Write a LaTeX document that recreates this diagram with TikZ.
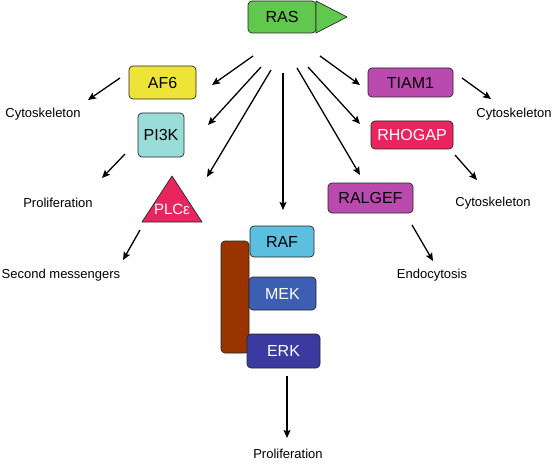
\documentclass[tikz,border=0pt]{standalone}
\usepackage{fontspec}
\setmainfont{Liberation Sans}
\usetikzlibrary{arrows.meta}
\definecolor{rasgreen}{RGB}{96,200,76}
\definecolor{afyellow}{RGB}{238,228,55}
\definecolor{pithree}{RGB}{153,221,216}
\definecolor{crimsonx}{RGB}{233,37,96}
\definecolor{magentax}{RGB}{187,74,174}
\definecolor{rafblue}{RGB}{93,191,224}
\definecolor{mekblue}{RGB}{60,95,180}
\definecolor{erkblue}{RGB}{58,58,160}
\definecolor{barbrown}{RGB}{153,51,0}
\tikzset{
  box/.style={draw=black!85, line width=0.7pt, rounded corners=4pt, font=\fontsize{16}{18}\selectfont, inner sep=0pt, anchor=center},
  lbl/.style={font=\fontsize{13}{15}\selectfont, inner sep=0pt, anchor=center},
  arr/.style={-{Stealth[length=8pt,width=7pt,inset=1.5pt]}, line width=1.3pt}
}
\begin{document}
\begin{tikzpicture}[x=1pt,y=-1pt]
\useasboundingbox (0,0) rectangle (553,465);
% RAS
\node[box, fill=rasgreen, minimum width=68, minimum height=32] (ras) at (282,17) {RAS};
\draw[draw=black!85, line width=0.7pt, fill=rasgreen, line join=round] (316,1) -- (347,17) -- (316,33) -- cycle;
% left
\node[box, fill=afyellow, minimum width=67, minimum height=33] (af6) at (162.5,82.5) {AF6};
\node[box, fill=pithree, minimum width=46, minimum height=44] (pi3k) at (161,135) {PI3K};
\draw[draw=black!85, line width=0.7pt, fill=crimsonx, line join=round] (172,176) -- (202,222) -- (142,222) -- cycle;
\node[font=\fontsize{15}{17}\selectfont, text=white, inner sep=0pt] (plc) at (172,209) {PLCε};
% right
\node[box, fill=magentax, minimum width=85, minimum height=29] (tiam) at (410.5,82.5) {TIAM1};
\node[box, fill=crimsonx, text=white, minimum width=82, minimum height=28] (rhogap) at (412,135) {RHOGAP};
\node[box, fill=magentax, minimum width=85, minimum height=30] (ralgef) at (370.5,198) {RALGEF};
% MAPK cascade
\node[box, fill=barbrown, minimum width=28, minimum height=112] (bar) at (235,297) {};
\node[box, fill=rafblue, minimum width=64, minimum height=31] (raf) at (282,241.5) {RAF};
\node[box, fill=mekblue, text=white, minimum width=67, minimum height=33] (mek) at (282.5,293.5) {MEK};
\node[box, fill=erkblue, text=white, minimum width=73, minimum height=34] (erk) at (283.5,351) {ERK};
% labels
\node[lbl] (cytoL) at (43,114) {Cytoskeleton};
\node[lbl] (prolL) at (58,203) {Proliferation};
\node[lbl] (second) at (61,275) {Second messengers};
\node[lbl] (cytoR1) at (514,114) {Cytoskeleton};
\node[lbl] (cytoR2) at (493,203) {Cytoskeleton};
\node[lbl] (endo) at (432,275) {Endocytosis};
\node[lbl] (prolB) at (288,454) {Proliferation};
% arrow end points
\coordinate (s1) at (253,56);  \coordinate (e1) at (212,85);
\coordinate (s2) at (261,67);  \coordinate (e2) at (208,125);
\coordinate (s3) at (271,70);  \coordinate (e3) at (207,177);
\coordinate (s4) at (283,73);  \coordinate (e4) at (283,210);
\coordinate (s5) at (297,68);  \coordinate (e5) at (360,175);
\coordinate (s6) at (308,67);  \coordinate (e6) at (360,124);
\coordinate (s7) at (320,56);  \coordinate (e7) at (360,85);
\coordinate (s8) at (120,78);  \coordinate (e8) at (88,100);
\coordinate (s9) at (125,154); \coordinate (e9) at (102,178);
\coordinate (s10) at (140,230); \coordinate (e10) at (123,260);
\coordinate (s11) at (462,78);  \coordinate (e11) at (491,99);
\coordinate (s12) at (455,155); \coordinate (e12) at (477,180);
\coordinate (s13) at (412,225); \coordinate (e13) at (433,261);
\coordinate (s14) at (287,376); \coordinate (e14) at (287,438);
\foreach \i in {1,...,14} { \draw[arr] (s\i) -- (e\i); }
\end{tikzpicture}
\end{document}
